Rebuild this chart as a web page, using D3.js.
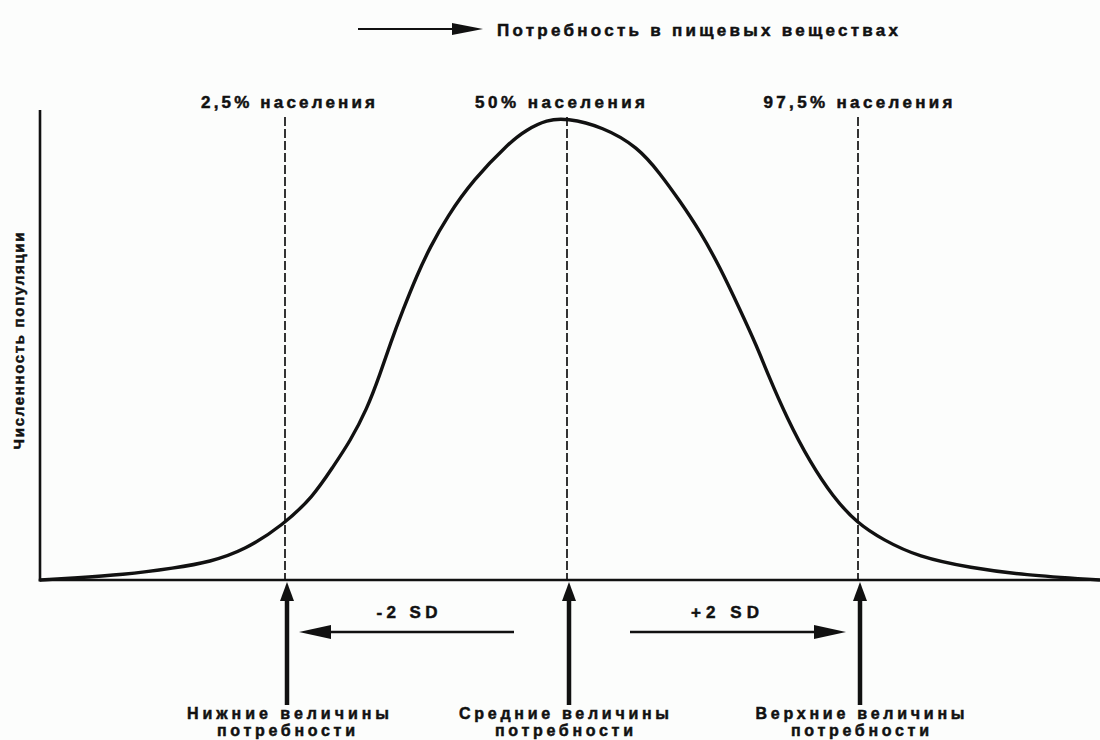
<!DOCTYPE html>
<html><head><meta charset="utf-8">
<script src="https://cdn.jsdelivr.net/npm/d3@7"></script>
<style>
html,body{margin:0;padding:0;background:#fcfdfc;}
svg{display:block;}
text{font-family:"Liberation Sans",Arial,sans-serif;font-weight:bold;fill:#111;stroke:#111;stroke-width:0.5px;}
</style></head>
<body>
<svg id="chart" width="1100" height="740"></svg>
<script>
// ---- data ----
// nutrient requirement (arbitrary units along the axis)
const curveX = [0, 3, 8.3, 13.5, 17, 20.5, 24.3, 27.3, 29.3, 31, 32.7, 34, 35, 36.3, 37.7, 39, 40.7, 43.3, 46.9, 48.6, 50.7, 52.6, 56.3, 59.8, 62, 64, 66, 68, 70, 71.7, 72.7, 74.7, 77, 79.3, 81.7, 84.3, 87.8, 93.1, 98.3, 106];
// population count (peak = 100)
const curveY = [0, 0.4, 1.1, 2.6, 3.9, 6.5, 11.9, 18, 24.5, 30, 37, 44.5, 51, 58.5, 66, 72, 78.6, 86.6, 94.6, 97.4, 99.6, 100, 98.1, 93.7, 88, 82, 75.5, 67.7, 58.5, 50.5, 45, 35, 25.5, 18, 12.3, 8.7, 5, 2.6, 1.1, 0];
const markerValues = [24.5, 52.7, 81.8];
const topLabels = ["2,5%  населения", "50%  населения", "97,5%  населения"];
const bottomLine1 = ["Нижние  величины", "Средние  величины", "Верхние  величины"];
const bottomLine2 = ["потребности", "потребности", "потребности"];
const sdLabels = ["-2  SD", "+2  SD"];
const titleText = "Потребность  в  пищевых  веществах";
const yAxisTitle = "Численность  популяции";

// ---- drawing ----
const svg = d3.select("#chart");
const x = d3.scaleLinear().domain([0, 106]).range([40, 1100]);
const y = d3.scaleLinear().domain([0, 100]).range([580, 118]);
const ink = "#111";

// axes
svg.append("line").attr("x1", 40).attr("x2", 40).attr("y1", 110).attr("y2", 581.5)
  .attr("stroke", ink).attr("stroke-width", 2.6);
svg.append("line").attr("x1", 38.7).attr("x2", 1100).attr("y1", y(0)).attr("y2", y(0))
  .attr("stroke", ink).attr("stroke-width", 2.6);

// dashed markers
svg.selectAll("line.dash").data(markerValues).join("line").attr("class", "dash")
  .attr("x1", d => x(d)).attr("x2", d => x(d))
  .attr("y1", 117).attr("y2", y(0))
  .attr("stroke", ink).attr("stroke-width", 1.7).attr("stroke-dasharray", "9,3");

// curve
const pts = curveX.map((v, i) => [v, curveY[i]]);
svg.append("path").datum(pts)
  .attr("d", d3.line().x(d => x(d[0])).y(d => y(d[1])).curve(d3.curveBasis))
  .attr("fill", "none").attr("stroke", ink).attr("stroke-width", 3.4);

// top labels
const topWidths = [174, 170, 189];
svg.selectAll("text.top").data(topLabels).join("text").attr("class", "top")
  .attr("x", (d, i) => x(markerValues[i]) + [3, -7, 0][i]).attr("y", 108)
  .attr("text-anchor", "middle").attr("font-size", 17)
  .attr("textLength", (d, i) => topWidths[i]).attr("lengthAdjust", "spacing")
  .text(d => d);

// title with arrow
svg.append("line").attr("x1", 358).attr("x2", 458).attr("y1", 29).attr("y2", 29)
  .attr("stroke", ink).attr("stroke-width", 2);
svg.append("path").attr("d", "M452,23 L483,29 L452,35 Z").attr("fill", ink);
svg.append("text").attr("x", 497).attr("y", 36).attr("font-size", 17)
  .attr("textLength", 401).attr("lengthAdjust", "spacing").text(titleText);

// y axis title
svg.append("text").attr("transform", "translate(24,341) rotate(-90)")
  .attr("text-anchor", "middle").attr("font-size", 15)
  .attr("textLength", 217).attr("lengthAdjust", "spacing").text(yAxisTitle);

// vertical arrows
markerValues.forEach(v => {
  const cx = x(v) + 2;
  svg.append("line").attr("x1", cx).attr("x2", cx).attr("y1", 598).attr("y2", 705)
    .attr("stroke", ink).attr("stroke-width", 4.5);
  svg.append("path").attr("d", `M${cx - 7},601 L${cx},582 L${cx + 7},601 Z`).attr("fill", ink);
});

// horizontal SD arrows
const ay = 632;
const lTip = x(markerValues[0]) + 14, lTail = x(markerValues[1]) - 53;
svg.append("line").attr("x1", lTail).attr("x2", lTip + 28).attr("y1", ay).attr("y2", ay)
  .attr("stroke", ink).attr("stroke-width", 2.6);
svg.append("path").attr("d", `M${lTip + 32},${ay - 7} L${lTip},${ay} L${lTip + 32},${ay + 7} Z`).attr("fill", ink);
const rTail = x(markerValues[1]) + 63, rTip = x(markerValues[2]) - 12;
svg.append("line").attr("x1", rTail).attr("x2", rTip - 28).attr("y1", ay).attr("y2", ay)
  .attr("stroke", ink).attr("stroke-width", 2.6);
svg.append("path").attr("d", `M${rTip - 32},${ay - 7} L${rTip},${ay} L${rTip - 32},${ay + 7} Z`).attr("fill", ink);

svg.selectAll("text.sd").data(sdLabels).join("text").attr("class", "sd")
  .attr("x", (d, i) => i === 0 ? 407 : 725).attr("y", 618)
  .attr("text-anchor", "middle").attr("font-size", 17)
  .attr("textLength", (d, i) => i === 0 ? 61 : 68).attr("lengthAdjust", "spacing")
  .text(d => d);

// bottom labels
const b1W = [202, 210, 209];
svg.selectAll("text.b1").data(bottomLine1).join("text").attr("class", "b1")
  .attr("x", (d, i) => x(markerValues[i]) + [3, -3, 2][i]).attr("y", 719)
  .attr("text-anchor", "middle").attr("font-size", 16)
  .attr("textLength", (d, i) => b1W[i]).attr("lengthAdjust", "spacing")
  .text(d => d);
svg.selectAll("text.b2").data(bottomLine2).join("text").attr("class", "b2")
  .attr("x", (d, i) => x(markerValues[i]) + [1, -3, 2][i]).attr("y", 736)
  .attr("text-anchor", "middle").attr("font-size", 16)
  .attr("textLength", 138).attr("lengthAdjust", "spacing")
  .text(d => d);
</script>
</body></html>
